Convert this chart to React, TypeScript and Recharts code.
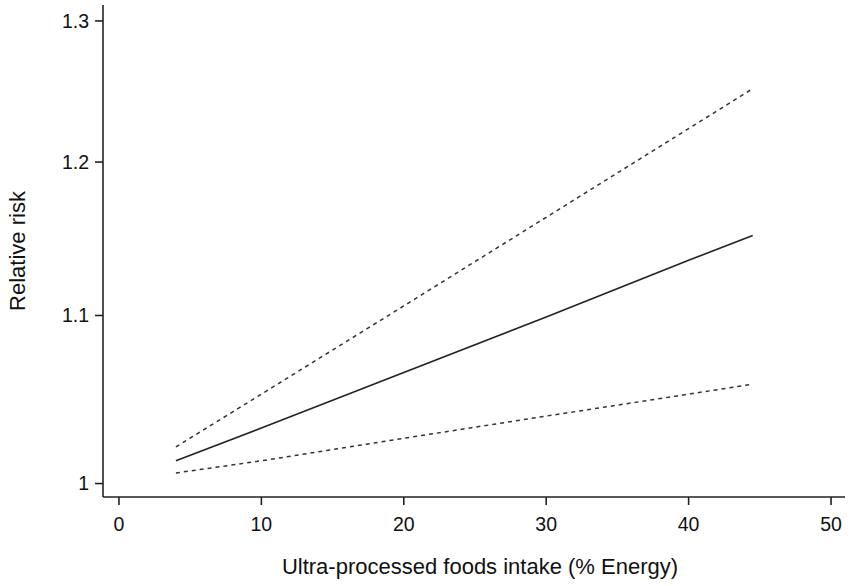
import React from "react";
import { LineChart, Line, XAxis, YAxis } from "recharts";

// % energy from ultra-processed foods
const intake = [4, 10, 20, 30, 40, 44.5];
// relative risk and 95% CI
const rrEstimate = [1.013, 1.032, 1.065, 1.099, 1.135, 1.151];
const rrUpper = [1.021, 1.052, 1.106, 1.163, 1.223, 1.251];
const rrLower = [1.006, 1.013, 1.026, 1.039, 1.052, 1.058];

const xTicks = [0, 10, 20, 30, 40, 50];
const yTicks = [1, 1.1, 1.2, 1.3];

const data = intake.map((x, i) => ({
  x,
  rr: rrEstimate[i],
  upper: rrUpper[i],
  lower: rrLower[i],
}));

const FONT = "'Liberation Sans', Arial, sans-serif";
const INK = "#222";

export default function App() {
  const tickStyle = { fill: "#111", fontSize: 19.5, fontFamily: FONT };
  return (
    <div style={{ position: "absolute", left: 0, top: 0, background: "#fff" }}>
      <LineChart
        width={851}
        height={586}
        data={data}
        margin={{ top: 5, right: 6, bottom: 0, left: 0 }}
      >
        <XAxis
          dataKey="x"
          type="number"
          domain={[-1.12, 50.98]}
          ticks={xTicks}
          allowDataOverflow
          height={89}
          tickSize={8}
          tickMargin={12}
          tick={tickStyle}
          axisLine={{ stroke: INK, strokeWidth: 1.6 }}
          tickLine={{ stroke: INK, strokeWidth: 1.6 }}
          label={{
            value: "Ultra-processed foods intake (% Energy)",
            position: "insideBottom",
            offset: 12,
            dx: 6,
            style: { fill: "#111", fontSize: 22, fontFamily: FONT },
          }}
        />
        <YAxis
          type="number"
          scale="log"
          domain={[0.9924, 1.3118]}
          ticks={yTicks}
          allowDataOverflow
          width={103}
          tickSize={8}
          tickMargin={6}
          tick={tickStyle}
          tickFormatter={(v: number) => String(v)}
          axisLine={{ stroke: INK, strokeWidth: 1.6 }}
          tickLine={{ stroke: INK, strokeWidth: 1.6 }}
          label={{
            value: "Relative risk",
            angle: -90,
            position: "insideLeft",
            offset: 17,
            style: {
              fill: "#111",
              fontSize: 22,
              fontFamily: FONT,
              textAnchor: "middle",
            },
          }}
        />
        <Line
          dataKey="upper"
          stroke="#333"
          strokeWidth={1.5}
          strokeDasharray="4 4"
          dot={false}
          isAnimationActive={false}
        />
        <Line
          dataKey="rr"
          stroke="#222"
          strokeWidth={1.6}
          dot={false}
          isAnimationActive={false}
        />
        <Line
          dataKey="lower"
          stroke="#333"
          strokeWidth={1.5}
          strokeDasharray="4 4"
          dot={false}
          isAnimationActive={false}
        />
      </LineChart>
    </div>
  );
}
